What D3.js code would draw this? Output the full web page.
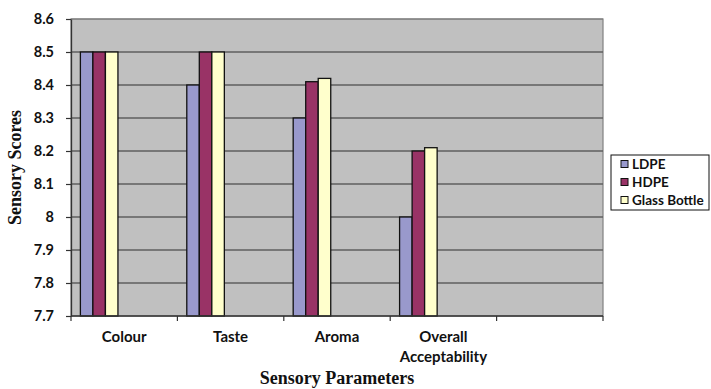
<!DOCTYPE html>
<html>
<head>
<meta charset="utf-8">
<script src="https://cdn.jsdelivr.net/npm/d3@7"></script>
<style>
  html, body { margin: 0; padding: 0; background: #fff; }
  svg { display: block; }
</style>
</head>
<body>
<svg id="chart" width="711" height="389"></svg>
<script>
// Sensory evaluation by packaging material
const categories = ["Colour", "Taste", "Aroma", "Overall\nAcceptability", ""];
const seriesNames = ["LDPE", "HDPE", "Glass Bottle"];
const ldpe  = [8.5, 8.4, 8.3, 8.0];
const hdpe  = [8.5, 8.5, 8.41, 8.2];
const glass = [8.5, 8.5, 8.42, 8.21];
const yTicks = [7.7, 7.8, 7.9, 8, 8.1, 8.2, 8.3, 8.4, 8.5, 8.6];
const seriesColors = ["#9999CC", "#993366", "#FFFFCC"];

const seriesValues = [ldpe, hdpe, glass];
const seriesSlots = 7; // bar slots per category (spreadsheet layout)

const svg = d3.select("#chart");
const plot = { left: 71, top: 19, right: 603, bottom: 316 };

const x0 = d3.scaleBand()
  .domain(d3.range(categories.length))
  .range([plot.left, plot.right])
  .paddingInner(0).paddingOuter(0);

const x1 = d3.scaleBand()
  .domain(d3.range(seriesSlots))
  .range([0, x0.bandwidth()])
  .paddingInner(0).paddingOuter(0.75);

const y = d3.scaleLinear().domain([7.7, 8.6]).range([plot.bottom, plot.top]);

const sans = "Lato, 'Open Sans', sans-serif";
const serif = "'Liberation Serif', 'Times New Roman', serif";

// plot background
svg.append("rect")
  .attr("x", plot.left).attr("y", plot.top)
  .attr("width", plot.right - plot.left).attr("height", plot.bottom - plot.top)
  .attr("fill", "#C0C0C0")
  .attr("stroke", "#808080").attr("stroke-width", 1.2);

// gridlines
svg.append("g").selectAll("line")
  .data(yTicks.filter(t => t > 7.7))
  .join("line")
  .attr("x1", plot.left).attr("x2", plot.right)
  .attr("y1", d => y(d)).attr("y2", d => y(d))
  .attr("stroke", d => d === 8.6 ? "#7a7a7a" : "#5f5f5f")
  .attr("stroke-width", d => d === 8.6 ? 1.2 : 1.6);

// bars
const groups = svg.append("g").selectAll("g")
  .data(seriesValues)
  .join("g")
  .attr("fill", (d, i) => seriesColors[i]);

groups.each(function(vals, si) {
  d3.select(this).selectAll("rect")
    .data(vals)
    .join("rect")
    .attr("x", (v, ci) => x0(ci) + x1(si))
    .attr("y", v => y(v))
    .attr("width", x1.bandwidth())
    .attr("height", v => y(7.7) - y(v))
    .attr("stroke", "#111")
    .attr("stroke-width", 1.3);
});

// y axis
const yAxis = d3.axisLeft(y)
  .tickValues(yTicks)
  .tickFormat(d => d3.format("")(+d.toFixed(1)))
  .tickSizeInner(5).tickSizeOuter(0).tickPadding(12);

const gy = svg.append("g")
  .attr("transform", `translate(${plot.left},0)`)
  .call(yAxis);
gy.select(".domain").attr("stroke", "#333").attr("stroke-width", 1.3);
gy.selectAll(".tick line").attr("stroke", "#333").attr("stroke-width", 1.2);
gy.selectAll(".tick text")
  .attr("font-family", sans)
  .attr("font-weight", "bold").attr("font-size", 14.5).attr("fill", "#111");

// x axis (category boundaries as ticks)
const boundaries = d3.range(categories.length + 1).map(i => plot.left + i * x0.step());
svg.append("line")
  .attr("x1", plot.left).attr("x2", plot.right)
  .attr("y1", plot.bottom).attr("y2", plot.bottom)
  .attr("stroke", "#333").attr("stroke-width", 1.3);
svg.append("g").selectAll("line")
  .data(boundaries)
  .join("line")
  .attr("x1", d => d).attr("x2", d => d)
  .attr("y1", plot.bottom).attr("y2", plot.bottom + 5)
  .attr("stroke", "#333").attr("stroke-width", 1.2);

// category labels
const catLabels = svg.append("g")
  .attr("font-family", sans)
  .attr("font-weight", "bold").attr("font-size", 15)
  .attr("fill", "#111").attr("text-anchor", "middle");
categories.forEach((c, i) => {
  const t = catLabels.append("text")
    .attr("x", x0(i) + x0.bandwidth() / 2)
    .attr("y", 342);
  c.split("\n").forEach((line, li) => {
    t.append("tspan")
      .attr("x", x0(i) + x0.bandwidth() / 2)
      .attr("dy", li === 0 ? 0 : 20)
      .text(line);
  });
});

// axis titles
svg.append("text")
  .attr("x", (plot.left + plot.right) / 2).attr("y", 384)
  .attr("text-anchor", "middle")
  .attr("font-family", serif)
  .attr("font-weight", "bold").attr("font-size", 18).attr("fill", "#111")
  .text("Sensory Parameters");

svg.append("text")
  .attr("transform", `translate(21,${(plot.top + plot.bottom) / 2}) rotate(-90)`)
  .attr("text-anchor", "middle")
  .attr("font-family", serif)
  .attr("font-weight", "bold").attr("font-size", 18).attr("fill", "#111")
  .text("Sensory Scores");

// legend
const legend = svg.append("g").attr("transform", "translate(611,155)");
legend.append("rect")
  .attr("x", 0).attr("y", 0).attr("width", 98).attr("height", 55)
  .attr("fill", "#fff").attr("stroke", "#111").attr("stroke-width", 1);
seriesNames.forEach((name, i) => {
  const cy = 9 + i * 18;
  legend.append("rect")
    .attr("x", 10).attr("y", cy - 3.5).attr("width", 7).attr("height", 7)
    .attr("fill", seriesColors[i]).attr("stroke", "#111").attr("stroke-width", 1);
  legend.append("text")
    .attr("x", 21).attr("y", cy + 5)
    .attr("font-family", sans)
    .attr("font-weight", "bold").attr("font-size", 13.5).attr("fill", "#111")
    .text(name);
});
</script>
</body>
</html>
